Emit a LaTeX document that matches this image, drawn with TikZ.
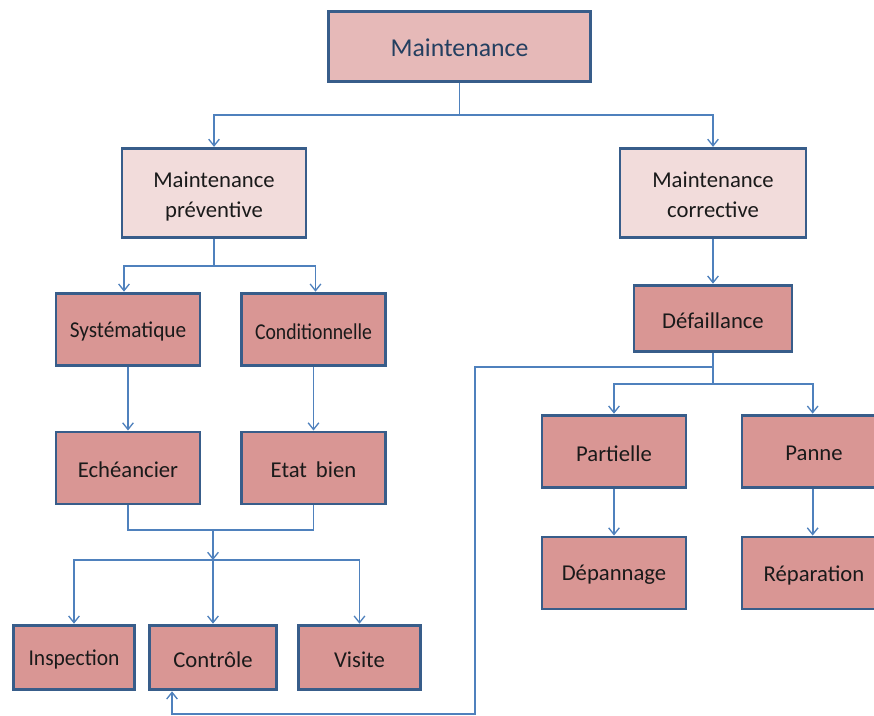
\documentclass[tikz,border=0pt]{standalone}
\usepackage{fontspec}
\setmainfont{Carlito}
\usetikzlibrary{arrows.meta,calc}
\definecolor{bordercol}{HTML}{385D8A}
\definecolor{linecol}{HTML}{4F81BD}
\definecolor{topfill}{HTML}{E6B9B8}
\definecolor{lightfill}{HTML}{F2DCDB}
\definecolor{darkfill}{HTML}{D99694}
\definecolor{toptext}{HTML}{243F60}
\definecolor{boxtext}{HTML}{1A1A1A}
\newcommand{\lowtext}[2][1.5pt]{\raisebox{-#1}[\height][\depth]{#2}}
\newcommand{\twolines}[2]{\lowtext[2.6pt]{\begin{tabular}{@{}c@{}}#1\\#2\end{tabular}}}
\tikzset{
  boxbase/.style={draw=bordercol, line width=2.2pt, rectangle, align=center, inner sep=0pt,
    text=boxtext, font=\fontsize{17}{20}\selectfont},
  topbox/.style={boxbase, fill=topfill, text=toptext, font=\fontsize{19.3}{22}\selectfont,
    minimum width=197pt, minimum height=53pt},
  midbox/.style={boxbase, fill=lightfill, minimum width=138pt, minimum height=67pt,
    font=\fontsize{17}{22.5}\selectfont},
  leafbox/.style={boxbase, fill=darkfill, minimum width=108pt, minimum height=54.5pt},
  smallbox/.style={boxbase, fill=darkfill, minimum width=91pt, minimum height=48.5pt},
  conn/.style={draw=linecol, line width=1.3pt},
  arr/.style={conn, -{Straight Barb[length=5pt,width=8pt,line width=1pt]}},
}
\begin{document}
\begin{tikzpicture}[x=0.75pt,y=-0.75pt]
\useasboundingbox (0,0) rectangle (874,715);
\clip (0,0) rectangle (874,715);
% nodes
\node[topbox] (top) at (459.5,46.5) {\lowtext[0.8pt]{Maintenance}};
\node[midbox] (prev) at (214,193) {\twolines{Maintenance}{préventive}};
\node[midbox, minimum width=139.5pt] (corr) at (713,193) {\twolines{Maintenance}{corrective}};
\node[leafbox] (syst) at (128,329.5) {\lowtext{\scalebox{0.94}[1]{Systématique}}};
\node[leafbox] (cond) at (313.5,329.5) {\lowtext{\scalebox{0.87}[1]{Conditionnelle}}};
\node[leafbox, minimum height=54pt] (ech) at (128,468) {\lowtext{Echéancier}};
\node[leafbox, minimum height=54pt] (etat) at (313.5,468) {\lowtext{Etat\, bien}};
\node[smallbox] (insp) at (74,657.5) {\lowtext{\scalebox{0.95}[1]{Inspection}}};
\node[smallbox, minimum width=95pt] (ctrl) at (213,657.5) {\lowtext{Contrôle}};
\node[smallbox] (visite) at (359.5,657.5) {\lowtext{Visite}};
\node[leafbox, minimum width=118.5pt, minimum height=50pt] (def) at (713,318.5) {\lowtext{Défaillance}};
\node[leafbox] (part) at (614,451.5) {\lowtext{Partielle}};
\node[leafbox] (panne) at (814,451.5) {\lowtext{Panne}};
\node[leafbox, minimum height=54pt] (dep) at (614,573) {\lowtext{Dépannage}};
\node[leafbox, minimum height=54pt] (rep) at (814,573) {\lowtext{Réparation}};
% coordinates for junctions
\coordinate (j1) at (459.5,115);
\coordinate (j2) at (214,266);
\coordinate (j3) at (213,530);
\coordinate (j4) at (213,560);
\coordinate (j5) at (713,367);
\coordinate (j6) at (713,384);
\coordinate (c1) at (475,714);
\coordinate (c2) at (172,714);
% connectors
\draw[conn] (top.south) -- (j1);
\draw[arr] (j1) -| (prev.north);
\draw[arr] (j1) -| (corr.north);
\draw[conn] (prev.south) -- (j2);
\draw[arr] (j2) -| ([xshift=-3]syst.north);
\draw[arr] (j2) -| ([xshift=1.5]cond.north);
\draw[arr] (syst) -- (ech);
\draw[arr] (cond) -- (etat);
\draw[conn] (ech.south) |- (j3) -| (etat.south);
\draw[arr] (j3) -- (j4);
\draw[arr] (j4) -| (insp.north);
\draw[arr] (j4) -- (ctrl.north);
\draw[arr] (j4) -| (visite.north);
\draw[arr] (corr) -- (def);
\draw[conn] (def.south) -- (j6);
\draw[arr] (j6) -| (part.north);
\draw[arr] (j6) -| ([xshift=-1]panne.north);
\draw[arr] (part) -- (dep);
\draw[arr] ([xshift=-1]panne.south) -- ([xshift=-1]rep.north);
\draw[arr] (j5) -| (c1) -- (c2) -- (c2 |- ctrl.south);
\end{tikzpicture}
\end{document}
